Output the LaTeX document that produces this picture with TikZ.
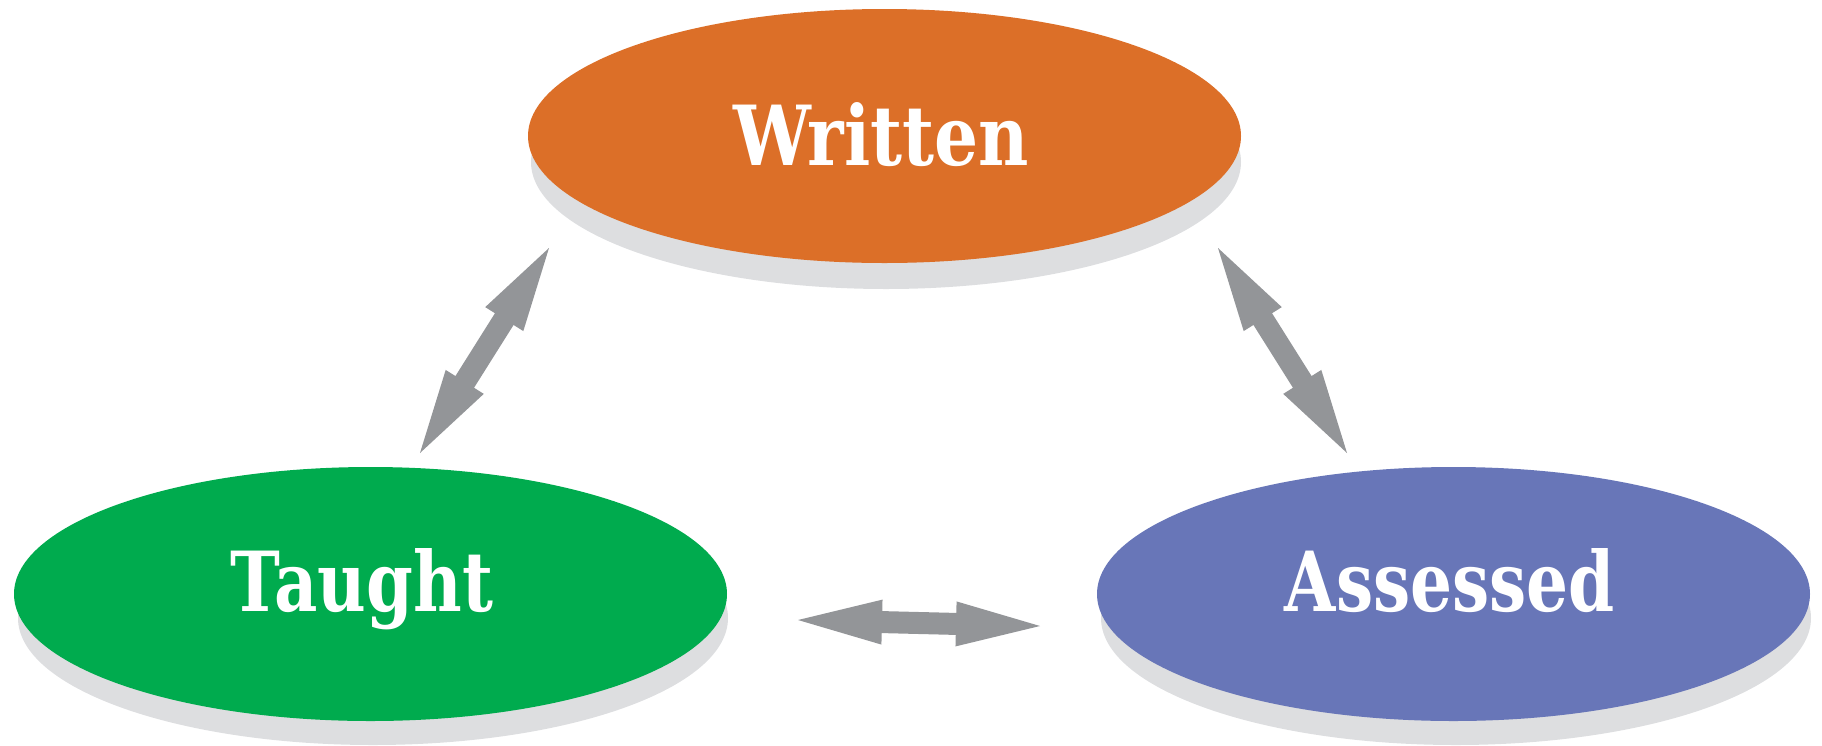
\documentclass[tikz,border=0pt]{standalone}
\usepackage{fontspec}
\setmainfont{DejaVu Serif}
\usetikzlibrary{shapes.geometric,calc}
\definecolor{cOrange}{HTML}{DC6F28}
\definecolor{cGreen}{HTML}{00AB4E}
\definecolor{cBlue}{HTML}{6876B8}
\definecolor{cShadow}{HTML}{DDDEE0}
\definecolor{cArrow}{HTML}{939598}
\newcommand{\dblarrow}[2]{%
  \fill[arrowfill]
    (#1)
    -- ($($(#1)!42pt!(#2)$)!11.25pt!90:(#2)$)
    -- ($($(#1)!42pt!(#2)$)!5.5pt!90:(#2)$)
    -- ($($(#2)!42pt!(#1)$)!5.5pt!-90:(#1)$)
    -- ($($(#2)!42pt!(#1)$)!11.25pt!-90:(#1)$)
    -- (#2)
    -- ($($(#2)!42pt!(#1)$)!11.25pt!90:(#1)$)
    -- ($($(#2)!42pt!(#1)$)!5.5pt!90:(#1)$)
    -- ($($(#1)!42pt!(#2)$)!5.5pt!-90:(#2)$)
    -- ($($(#1)!42pt!(#2)$)!11.25pt!-90:(#2)$)
    -- cycle;}
\tikzset{
  disc/.style={ellipse, inner sep=0pt, minimum width=356.5pt, minimum height=127pt, draw=none},
  discshadow/.style={disc, fill=cShadow, minimum width=355pt},
  lbl/.style={inner sep=0pt, anchor=base, text=white, font=\bfseries},
  arrowfill/.style={fill=cArrow}
}
\begin{document}
\begin{tikzpicture}[x=0.5pt, y=-0.5pt]
\useasboundingbox (0,0) rectangle (1822,745);
% shadows
\node[discshadow] (writtenshadow) at (886,162) {};
\node[discshadow] (taughtshadow) at (373,618) {};
\node[discshadow] (assessedshadow) at (1456,618) {};
% ellipses
\node[disc, fill=cOrange] (written) at (884.5,136) {};
\node[disc, fill=cGreen] (taught) at (370.5,594) {};
\node[disc, fill=cBlue] (assessed) at (1453.5,594) {};
% labels
\node[lbl] (writtenlbl) at (881,165) {\resizebox{148pt}{31.5pt}{Written}};
\node[lbl] (taughtlbl) at (362,611) {\resizebox{131pt}{31.5pt}{Taught}};
\node[lbl] (assessedlbl) at (1450,611) {\resizebox{165pt}{31.5pt}{Assessed}};
% arrow end points
\coordinate (tw1) at (420,453);
\coordinate (tw2) at (549,248);
\coordinate (wa1) at (1218,248);
\coordinate (wa2) at (1347,453);
\coordinate (ta1) at (798,620);
\coordinate (ta2) at (1040,626);
\dblarrow{tw1}{tw2}
\dblarrow{wa1}{wa2}
\dblarrow{ta1}{ta2}
\end{tikzpicture}
\end{document}
